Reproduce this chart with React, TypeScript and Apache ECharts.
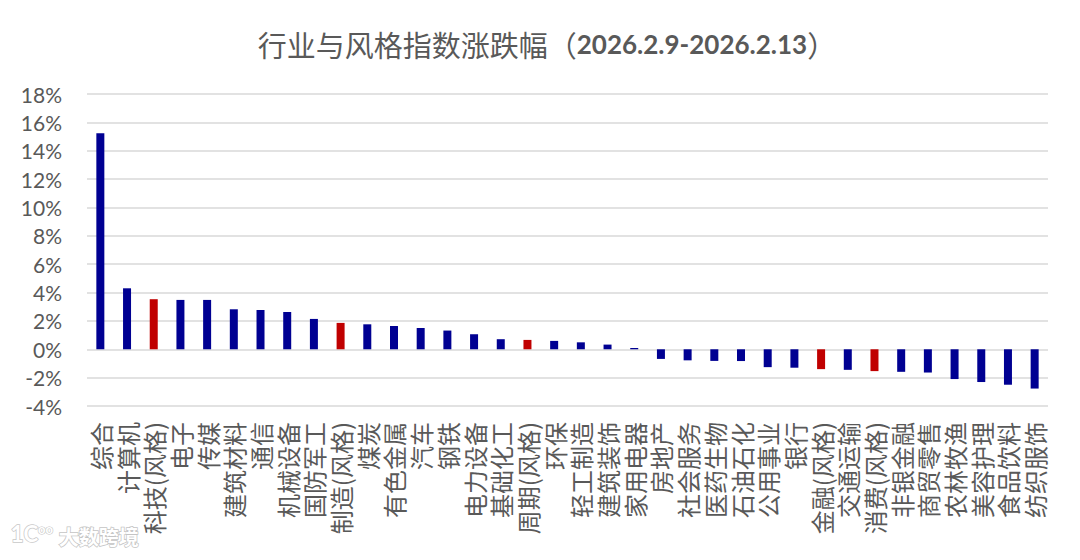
import React, { useEffect, useRef } from "react";
import * as echarts from "echarts";

const categories = [
  "综合", "计算机", "科技(风格)", "电子", "传媒", "建筑材料", "通信", "机械设备", "国防军工",
  "制造(风格)", "煤炭", "有色金属", "汽车", "钢铁", "电力设备", "基础化工", "周期(风格)", "环保",
  "轻工制造", "建筑装饰", "家用电器", "房地产", "社会服务", "医药生物", "石油石化", "公用事业",
  "银行", "金融(风格)", "交通运输", "消费(风格)", "非银金融", "商贸零售", "农林牧渔", "美容护理",
  "食品饮料", "纺织服饰",
];

const changes = [
  15.24, 4.3, 3.53, 3.48, 3.48, 2.82, 2.77, 2.63, 2.14,
  1.86, 1.76, 1.64, 1.5, 1.32, 1.06, 0.71, 0.66, 0.59,
  0.49, 0.33, 0.09, -0.68, -0.78, -0.82, -0.83, -1.26,
  -1.3, -1.4, -1.45, -1.54, -1.59, -1.64, -2.1, -2.31,
  -2.5, -2.77,
];

const yTicks = { min: -4, max: 18, interval: 2 };

const titleMain = "行业与风格指数涨跌幅";
const titleDate = "2026.2.9-2026.2.13";

const BLUE = "#000092";
const RED = "#C00000";

export default function App() {
  const ref = useRef<HTMLDivElement>(null);

  useEffect(() => {
    if (!ref.current) return;
    const chart = echarts.init(ref.current, undefined, { renderer: "svg" });
    chart.setOption({
      animation: false,
      backgroundColor: "#ffffff",
      title: {
        text: `{cn|${titleMain}（}{num|${titleDate}}{cn|）}`,
        left: 542,
        textAlign: "center",
        top: 24,
        textStyle: {
          fontWeight: "normal",
          rich: {
            cn: {
              fontFamily: "Noto Sans CJK SC",
              fontWeight: "normal",
              fontSize: 29,
              color: "#595959",
            },
            num: {
              fontFamily: "Lato",
              fontWeight: "bold",
              fontSize: 26,
              color: "#595959",
            },
          },
        },
      },
      graphic: [
        {
          type: "text",
          left: 10,
          top: 522,
          style: {
            text: "{a|1C}{b|oo}",
            rich: {
              a: {
                font: "bold 22px Lato",
                fill: "#ffffff",
                stroke: "#c8c8c8",
                lineWidth: 1.5,
                verticalAlign: "bottom",
              },
              b: {
                font: "bold 13px Lato",
                fill: "#ffffff",
                stroke: "#c8c8c8",
                lineWidth: 1.2,
                verticalAlign: "top",
              },
            },
          },
        },
        {
          type: "text",
          left: 58,
          top: 526,
          style: {
            text: "大数跨境",
            font: "bold 20px 'Noto Sans CJK SC'",
            fill: "#ffffff",
            stroke: "#c4c4c4",
            lineWidth: 1.5,
          },
        },
      ],
      grid: { left: 87, right: 32, top: 94, bottom: 154, containLabel: false },
      xAxis: {
        type: "category",
        data: categories,
        axisLine: { show: false, onZero: false },
        axisTick: { show: false },
        axisLabel: {
          interval: 0,
          rotate: 90,
          margin: 16,
          fontFamily: "Noto Sans CJK SC",
          fontSize: 24,
          color: "#595959",
        },
      },
      yAxis: {
        type: "value",
        min: yTicks.min,
        max: yTicks.max,
        interval: yTicks.interval,
        axisLine: { show: false },
        axisTick: { show: false },
        axisLabel: {
          formatter: (v: number) => `${v}%`,
          margin: 25,
          fontFamily: "Lato",
          fontSize: 21,
          color: "#595959",
        },
        splitLine: { lineStyle: { color: "#D9D9D9", width: 1.5 } },
      },
      series: [
        {
          type: "bar",
          barWidth: 8,
          data: changes.map((v, i) => ({
            value: v,
            itemStyle: { color: categories[i].includes("风格") ? RED : BLUE },
          })),
        },
      ],
    });
    return () => chart.dispose();
  }, []);

  return (
    <div
      ref={ref}
      style={{ position: "fixed", left: 0, top: 0, width: 1080, height: 560 }}
    />
  );
}
